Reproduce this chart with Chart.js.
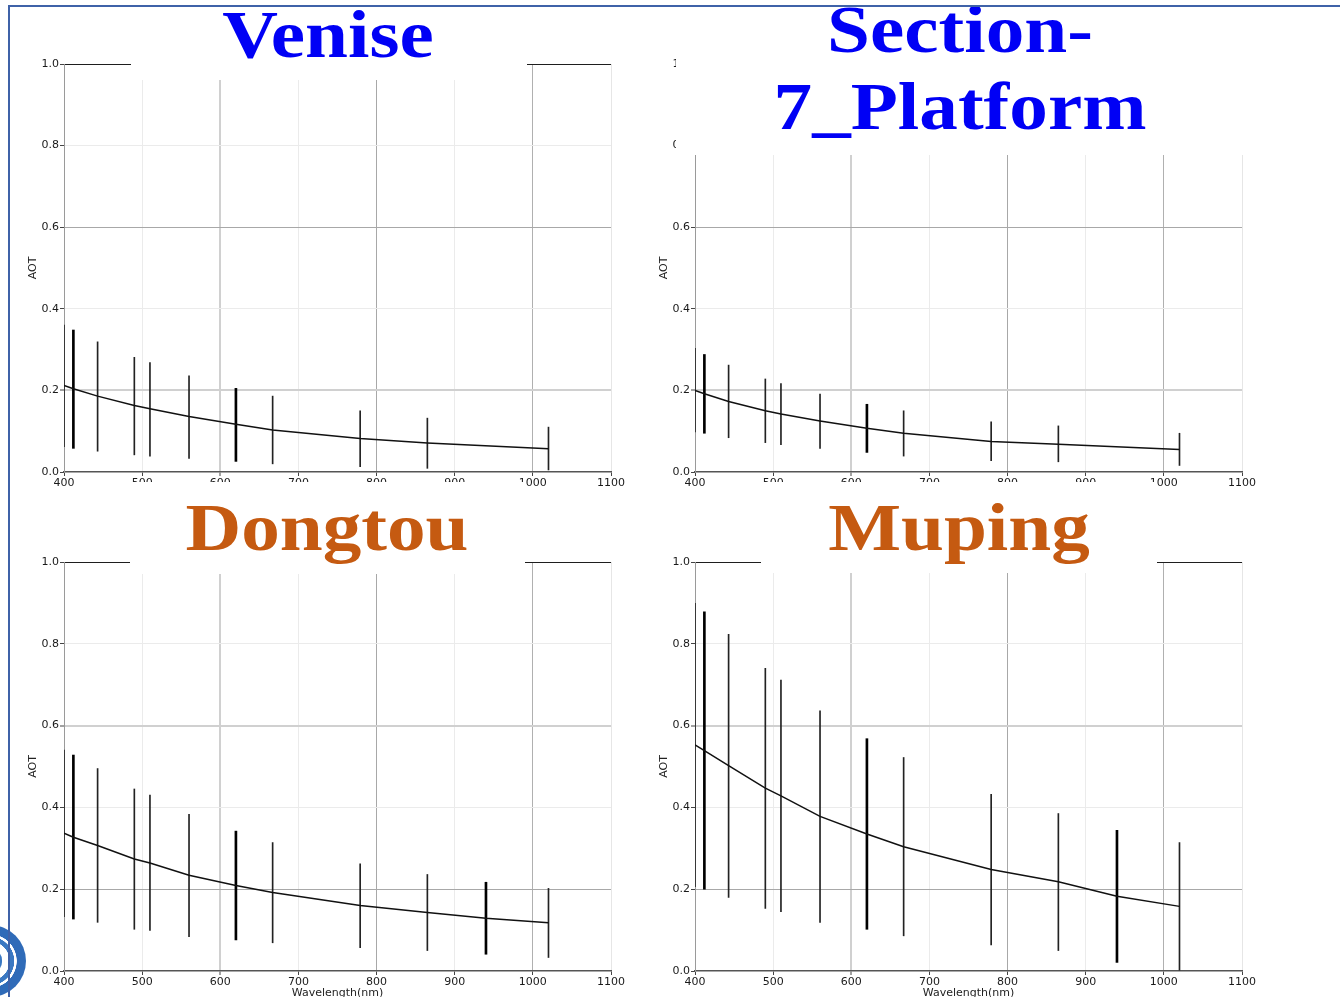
<!DOCTYPE html>
<html>
<head>
<meta charset="utf-8">
<script src="https://cdn.jsdelivr.net/npm/chart.js@4.4.1/dist/chart.umd.min.js"></script>
<style>
  html, body { margin: 0; padding: 0; background: #fff; }
  #slide { position: relative; width: 1340px; height: 997px; overflow: hidden; background: #fff; }
  .chart { position: absolute; }
  .mask { position: absolute; background: #fff; }
  .title { position: absolute; white-space: nowrap; text-align: center;
           font-family: 'Liberation Serif', 'Times New Roman', serif; font-weight: bold;
           font-size: 68px; line-height: 77px;
           transform: translateX(-50%) scaleX(1.135); }
  .blue { color: #0000f5; }
  .orange { color: #c55a11; }
  .border-top { position: absolute; left: 8px; top: 5px; width: 1332px; height: 2px; background: #3f62a8; }
  .border-left { position: absolute; left: 8px; top: 5px; width: 2px; height: 992px; background: #3f62a8; }
  .logo { position: absolute; left: -46px; top: 925px; width: 72px; height: 72px; border-radius: 50%;
          background: radial-gradient(circle, #ffffff 0 38%, #3a78c2 39% 47%, #ffffff 48% 52%, #2f6bb8 53% 92%, rgba(80,130,200,0.35) 96%, rgba(255,255,255,0) 100%); }
  .logo-in { position: absolute; left: -18px; top: 950px; width: 20px; height: 22px; border-radius: 45%; background: #3a78c2; }
</style>
</head>
<body>
<div id="slide">
  <div class="chart" style="left:0px;top:0px;"><canvas id="c0" width="640" height="490"></canvas></div>
  <div class="chart" style="left:631px;top:0px;"><canvas id="c1" width="640" height="490"></canvas></div>
  <div class="chart" style="left:0px;top:490px;"><canvas id="c2" width="640" height="510"></canvas></div>
  <div class="chart" style="left:631px;top:490px;"><canvas id="c3" width="640" height="510"></canvas></div>

  <div class="mask" style="left:131px;top:8px;width:396px;height:72px;"></div>
  <div class="mask" style="left:676px;top:8px;width:574px;height:147px;"></div>
  <div class="mask" style="left:130px;top:482px;width:395px;height:92px;"></div>
  <div class="mask" style="left:761px;top:482px;width:396px;height:91px;"></div>

  <div class="title blue" id="t0" style="left:328px;top:-4px;"></div>
  <div class="title blue" id="t1" style="left:960px;top:-9px;"></div>
  <div class="title orange" id="t2" style="left:327px;top:489px;"></div>
  <div class="title orange" id="t3" style="left:959px;top:489px;"></div>

  <div class="logo"></div>
  <div class="logo-in"></div>
  <div class="border-top"></div>
  <div class="border-left"></div>
</div>
<script>
// ---------------- DATA ----------------
const siteTitles = ['Venise', 'Section-<br>7_Platform', 'Dongtou', 'Muping'];

const wavelengthsTop    = [400, 412, 443, 490, 510, 560, 620, 667, 779, 865, 1020];
const wavelengthsBottom = [400, 412, 443, 490, 510, 560, 620, 667, 779, 865, 940, 1020];
const thickBands = [412, 620, 940];

const veniseMean = [0.212, 0.204, 0.186, 0.163, 0.155, 0.136, 0.117, 0.103, 0.082, 0.071, 0.057];
const veniseLow  = [0.062, 0.058, 0.051, 0.042, 0.039, 0.033, 0.026, 0.020, 0.013, 0.009, 0.005];
const veniseHigh = [0.360, 0.348, 0.319, 0.281, 0.268, 0.236, 0.205, 0.186, 0.150, 0.132, 0.110];

const section7Mean = [0.200, 0.192, 0.173, 0.150, 0.142, 0.125, 0.107, 0.095, 0.075, 0.068, 0.055];
const section7Low  = [0.098, 0.095, 0.084, 0.072, 0.067, 0.058, 0.048, 0.039, 0.028, 0.025, 0.016];
const section7High = [0.303, 0.288, 0.262, 0.228, 0.217, 0.191, 0.166, 0.150, 0.123, 0.113, 0.095];

const dongtouMean = [0.337, 0.327, 0.307, 0.274, 0.264, 0.234, 0.209, 0.192, 0.160, 0.143, 0.129, 0.118];
const dongtouLow  = [0.133, 0.127, 0.119, 0.102, 0.099, 0.084, 0.076, 0.069, 0.057, 0.050, 0.041, 0.033];
const dongtouHigh = [0.540, 0.528, 0.495, 0.445, 0.430, 0.383, 0.342, 0.314, 0.262, 0.236, 0.217, 0.202];

const mupingMean = [0.553, 0.539, 0.502, 0.447, 0.428, 0.378, 0.335, 0.304, 0.248, 0.218, 0.183, 0.158];
const mupingLow  = [0.206, 0.200, 0.180, 0.153, 0.145, 0.119, 0.102, 0.086, 0.064, 0.050, 0.021, 0.002];
const mupingHigh = [0.899, 0.878, 0.823, 0.740, 0.711, 0.636, 0.568, 0.522, 0.432, 0.385, 0.344, 0.314];

const xTickValues = [400, 500, 600, 700, 800, 900, 1000, 1100];
const xTickLabels = ['400', '500', '600', '700', '800', '900', '1000', '1100'];
const yTickLabels = ['0.0', '0.2', '0.4', '0.6', '0.8', '1.0'];
const yAxisTitle = 'AOT';
const xAxisTitle = 'Wavelength(nm)';

// ---------------- RENDER ----------------
siteTitles.forEach((t, i) => { document.getElementById('t' + i).innerHTML = t; });

const tickFont = { family: "'DejaVu Sans', sans-serif", size: 11 };

function makeChart(id, wl, mean, low, high, opt) {
  const thin = [], thick = [];
  wl.forEach((w, i) => {
    const d = { x: w, y: [low[i], high[i]] };
    (thickBands.includes(w) ? thick : thin).push(d);
  });
  const line = wl.map((w, i) => ({ x: w, y: mean[i] }));

  const tv = (c) => (c && c.tick && typeof c.tick.value === 'number') ? c.tick.value : null;

  const yColor = (c) => {
    const t = tv(c); if (t === null) return '#ebebeb';
    const v = Math.round(t * 10);
    if (v === 10) return '#1e1e1e';
    if (v === 0) return 'rgba(0,0,0,0)';
    if (v === opt.yThick) return '#d0d0d0';
    if (v === opt.yDark) return '#a8a8a8';
    return '#ebebeb';
  };
  const yWidth = (c) => { const t = tv(c); return (t !== null && Math.round(t * 10) === opt.yThick) ? 2 : 1; };
  const xColor = (c) => {
    const t = tv(c); if (t === null) return '#ebebeb';
    const v = Math.round(t);
    if (v === 400) return 'rgba(0,0,0,0)';
    if (v === 600) return '#d0d0d0';
    if (v === 800) return '#a8a8a8';
    if (v === 1000) return '#b0b0b0';
    if (v === 1100) return '#e6e6e6';
    return '#ebebeb';
  };
  const xWidth = (c) => { const t = tv(c); return (t !== null && Math.round(t) === 600) ? 2 : 1; };

  return new Chart(document.getElementById(id), {
    type: 'bar',
    data: {
      datasets: [
        { type: 'line', data: line, borderColor: '#111', borderWidth: 1.5, pointRadius: 0, tension: 0, order: 0 },
        { type: 'bar', data: thin, backgroundColor: '#222', borderWidth: 0, barThickness: 1, grouped: false, order: 1 },
        { type: 'bar', data: thick, backgroundColor: '#000', borderWidth: 0, barThickness: 2, grouped: false, order: 1 }
      ]
    },
    options: {
      responsive: false,
      animation: false,
      events: [],
      layout: { padding: { top: opt.padTop, left: 0, right: 29, bottom: 0 } },
      plugins: { legend: { display: false }, tooltip: { enabled: false } },
      scales: {
        x: {
          type: 'linear', min: 400, max: 1100, offset: false,
          afterFit: (s) => { s.height = opt.xHeight; },
          ticks: {
            stepSize: 100,
            font: tickFont, color: '#1a1a1a', padding: 1, maxRotation: 0, autoSkip: false,
            callback: (v) => { const i = xTickValues.indexOf(Math.round(v)); return i >= 0 ? xTickLabels[i] : ''; }
          },
          grid: { offset: false, color: xColor, lineWidth: xWidth, tickColor: '#444', tickLength: 4, tickWidth: 1 },
          border: { color: '#555', width: 1.5 },
          title: { display: opt.showXTitle, text: xAxisTitle, color: '#222',
                   font: { family: "'DejaVu Sans', sans-serif", size: 11 }, padding: { top: 0, bottom: 0 } }
        },
        y: {
          min: 0, max: 1,
          afterFit: (s) => { s.width = 64; },
          ticks: {
            stepSize: 0.2, font: tickFont, color: '#1a1a1a', padding: 1,
            callback: (v) => { const i = Math.round(v * 5); return yTickLabels[i] !== undefined ? yTickLabels[i] : ''; }
          },
          grid: { offset: false, color: yColor, lineWidth: yWidth, tickColor: '#444', tickLength: 4, tickWidth: 1 },
          border: { color: '#9a9a9a', width: 1 },
          title: { display: true, text: yAxisTitle, color: '#222',
                   font: { family: "'DejaVu Sans', sans-serif", size: 11 }, padding: { top: 27, bottom: 0 } }
        }
      }
    }
  });
}

const topOpt = { padTop: 64, xHeight: 18, showXTitle: false, yThick: 2, yDark: 6 };
const botOpt = { padTop: 72, xHeight: 29, showXTitle: true, yThick: 6, yDark: 2 };

makeChart('c0', wavelengthsTop, veniseMean, veniseLow, veniseHigh, topOpt);
makeChart('c1', wavelengthsTop, section7Mean, section7Low, section7High, topOpt);
makeChart('c2', wavelengthsBottom, dongtouMean, dongtouLow, dongtouHigh, botOpt);
makeChart('c3', wavelengthsBottom, mupingMean, mupingLow, mupingHigh, botOpt);
</script>
</body>
</html>
